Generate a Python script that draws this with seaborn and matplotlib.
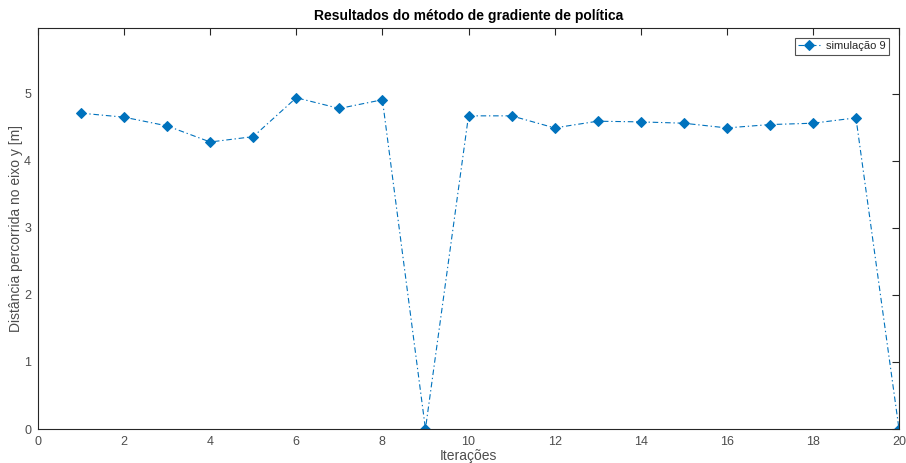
import matplotlib
matplotlib.use("Agg")
import matplotlib.pyplot as plt
import seaborn as sns
import pandas as pd

iteracoes = list(range(1, 21))
distancia = [4.71, 4.65, 4.52, 4.28, 4.36, 4.94, 4.78, 4.91, 0.0, 4.67,
             4.67, 4.49, 4.59, 4.58, 4.56, 4.49, 4.54, 4.56, 4.64, 0.0]
serie = "simulação 9"
xticks = list(range(0, 21, 2))
yticks = [0, 1, 2, 3, 4, 5]

sns.set_theme(style="white")
plt.rcParams['font.family'] = ['Liberation Sans', 'DejaVu Sans']

df = pd.DataFrame({"it": iteracoes, "d": distancia, "s": serie})

fig = plt.figure(figsize=(9.06, 4.63), dpi=100)
ax = fig.add_axes([38/906, 34/463, (899-38)/906, (429-28)/463])

color = "#0072BD"
sns.lineplot(data=df, x="it", y="d", ax=ax, color=color, linewidth=0.8,
             marker="D", markersize=5, markeredgecolor=color,
             markerfacecolor=color, label=serie)
ax.lines[0].set_linestyle((0, (5, 2.5, 1.2, 2.5)))

ax.set_xlim(0, 20)
ax.set_ylim(0, 5.98)
ax.set_xticks(xticks)
ax.set_yticks(yticks)
ax.tick_params(direction="in", length=5, width=0.8, colors="#262626",
               labelsize=9, top=True, right=True, labelcolor="#4d4d4d", pad=5)
for sp in ax.spines.values():
    sp.set_color("#262626")
    sp.set_linewidth(0.8)
ax.set_xlabel("Iterações", fontsize=10, color="#4d4d4d", labelpad=1)
ax.set_ylabel("Distância percorrida no eixo y [m]", fontsize=10, color="#4d4d4d", labelpad=1)
ax.set_title("Resultados do método de gradiente de política", fontsize=10,
             fontweight="bold", color="black", pad=6)

leg = ax.legend(loc="upper right", fontsize=8, frameon=True, fancybox=False,
                handlelength=2.0, handletextpad=0.5, borderpad=0.3,
                borderaxespad=0.9)
leg.get_frame().set_edgecolor("#262626")
leg.get_frame().set_linewidth(0.8)

fig.savefig("out.png", dpi=100)
